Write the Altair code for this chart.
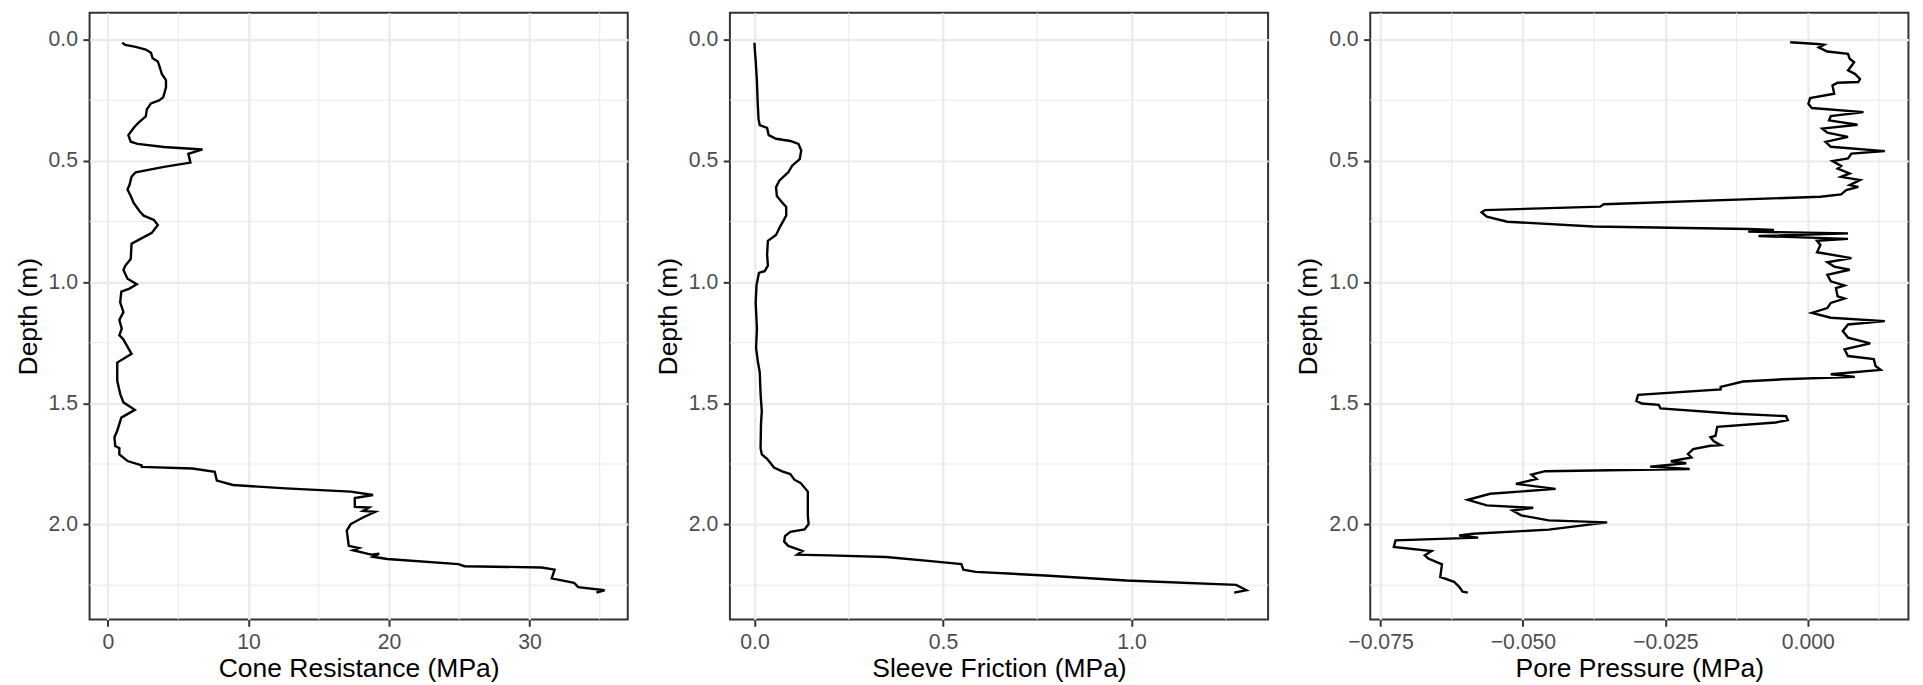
import altair as alt
import pandas as pd

# ---------------- data ----------------
depth_qc = [0.013,0.022,0.030,0.041,0.054,0.077,0.090,0.116,0.143,0.167,
            0.197,0.238,0.251,0.263,0.287,0.317,0.341,0.358,0.376,0.394,
            0.421,0.430,0.443,0.453,0.471,0.507,0.525,0.547,0.565,0.600,
            0.618,0.645,0.672,0.708,0.726,0.744,0.765,0.797,0.824,0.842,
            0.905,0.932,0.950,0.986,1.009,1.027,1.039,1.084,1.124,1.156,
            1.192,1.219,1.237,1.296,1.332,1.407,1.461,1.496,1.527,1.559,
            1.613,1.640,1.676,1.685,1.711,1.738,1.756,1.762,1.769,1.783,
            1.819,1.837,1.851,1.864,1.878,1.891,1.927,1.930,1.944,1.948,
            1.971,1.998,2.025,2.088,2.097,2.106,2.124,2.120,2.133,2.142,
            2.163,2.172,2.177,2.186,2.222,2.240,2.258,2.271,2.281]
cone_resistance = [1.01,1.24,1.97,2.69,3.06,3.18,3.55,3.70,3.84,4.13,
                   4.13,3.93,3.64,3.06,2.77,2.69,2.20,1.91,1.68,1.45,
                   1.62,2.11,3.99,6.73,5.72,5.87,3.99,1.97,1.68,1.53,
                   1.39,1.62,1.82,2.25,2.54,3.27,3.55,3.12,2.25,1.68,
                   1.62,1.24,1.10,1.39,2.05,1.53,0.95,0.87,1.10,0.81,
                   0.98,0.81,1.10,1.68,0.66,0.66,0.87,1.10,1.91,0.95,
                   0.66,0.46,0.52,0.81,0.81,1.39,2.40,2.40,6.01,7.60,
                   7.75,8.90,12.66,17.28,18.87,17.57,17.57,18.58,18.15,19.02,
                   18.15,17.28,17.00,17.14,17.86,17.43,18.73,19.31,18.87,19.88,
                   24.94,25.38,30.87,31.79,31.59,33.18,33.47,35.35,34.77]

depth_fs = [0.013,0.045,0.081,0.170,0.260,0.328,0.353,0.364,0.394,0.409,
            0.418,0.430,0.457,0.493,0.520,0.547,0.582,0.609,0.645,0.672,
            0.690,0.726,0.771,0.806,0.830,0.887,0.932,0.955,0.962,1.013,
            1.084,1.192,1.272,1.335,1.371,1.461,1.532,1.586,1.685,1.711,
            1.729,1.765,1.781,1.792,1.815,1.828,1.864,1.909,1.962,1.998,
            2.020,2.030,2.048,2.070,2.088,2.109,2.124,2.127,2.134,2.151,
            2.163,2.186,2.195,2.210,2.231,2.249,2.271,2.281]
sleeve_friction = [0.000,0.001,0.003,0.0065,0.0086,0.0108,0.014,0.0335,0.0378,0.0572,
                   0.095,0.1166,0.124,0.120,0.100,0.0896,0.0659,0.0572,0.0594,0.0734,
                   0.0842,0.0842,0.068,0.0572,0.0356,0.0335,0.0356,0.027,0.0119,0.0054,
                   0.0032,0.0065,0.0043,0.0097,0.014,0.0162,0.0194,0.0173,0.0162,0.0194,
                   0.0335,0.0518,0.0734,0.095,0.1058,0.122,0.1415,0.1415,0.1415,0.1436,
                   0.1328,0.095,0.081,0.0788,0.0896,0.1274,0.1134,0.1976,0.3488,0.4676,
                   0.5486,0.554,0.5864,0.770,0.986,1.2775,1.3045,1.272]

depth_u = [0.011,0.018,0.021,0.032,0.049,0.059,0.079,0.093,0.127,0.141,
           0.162,0.175,0.178,0.189,0.223,0.241,0.264,0.282,0.299,0.315,
           0.333,0.351,0.367,0.384,0.401,0.422,0.442,0.460,0.470,0.490,
           0.501,0.521,0.532,0.552,0.566,0.579,0.600,0.607,0.621,0.638,
           0.648,0.679,0.689,0.703,0.712,0.730,0.751,0.771,0.781,0.785,
           0.792,0.799,0.810,0.822,0.830,0.847,0.877,0.901,0.918,0.936,
           0.949,0.970,0.997,1.014,1.025,1.059,1.068,1.086,1.107,1.127,
           1.147,1.161,1.175,1.202,1.229,1.253,1.277,1.305,1.318,1.346,
           1.362,1.380,1.391,1.401,1.410,1.432,1.443,1.465,1.490,1.501,
           1.506,1.521,1.542,1.553,1.569,1.579,1.597,1.634,1.640,1.657,
           1.672,1.675,1.689,1.709,1.723,1.739,1.747,1.761,1.771,1.780,
           1.794,1.812,1.832,1.853,1.873,1.898,1.921,1.931,1.942,1.962,
           1.983,1.991,2.021,2.038,2.045,2.054,2.065,2.092,2.109,2.127,
           2.140,2.164,2.216,2.236,2.257,2.277,2.281]
pore_pressure = [-0.00308,0.00163,0.00284,0.00193,0.00344,0.00707,0.00737,0.00815,0.00707,0.00827,
                 0.00918,0.00888,0.00525,0.00435,0.00465,0.00042,0.00012,0.00072,0.00978,0.00405,
                 0.00374,0.00876,0.00254,0.00344,0.00707,0.00314,0.00405,0.01353,0.00767,0.00707,
                 0.00435,0.00586,0.00525,0.00737,0.00586,0.00918,0.00737,0.00888,0.00676,0.00586,
                 0.00223,-0.03582,-0.03642,-0.05666,-0.05726,-0.05635,-0.05273,-0.03763,-0.01045,-0.00592,
                 -0.01045,0.00707,-0.00864,0.00707,0.00163,0.00223,0.00163,0.00767,0.00344,0.00465,
                 0.00737,0.00344,0.00405,0.00646,0.00495,0.00525,0.00646,0.00405,0.00344,0.00072,
                 0.00405,0.01353,0.00707,0.00616,0.00707,0.01099,0.00646,0.00707,0.0116,0.0119,
                 0.0128,0.00405,0.00827,-0.00441,-0.01136,-0.01528,-0.01528,-0.02978,-0.03008,-0.02917,
                 -0.02615,-0.02585,-0.01347,-0.00381,-0.0035,-0.00562,-0.01589,-0.01619,-0.01709,-0.01649,
                 -0.01528,-0.01709,-0.02011,-0.02102,-0.02042,-0.02404,-0.02132,-0.02766,-0.02072,-0.04609,
                 -0.0485,-0.0476,-0.05122,-0.04427,-0.05575,-0.05968,-0.05635,-0.0482,-0.05182,-0.05031,
                 -0.04548,-0.03521,-0.04548,-0.05877,-0.06119,-0.05786,-0.07236,-0.07266,-0.06602,-0.06723,
                 -0.06662,-0.06421,-0.06451,-0.06209,-0.06119,-0.06058,-0.05968]

depth_major = [0.0, 0.5, 1.0, 1.5, 2.0]
depth_minor = [0.25, 0.75, 1.25, 1.75, 2.25]
qc_major = [0, 10, 20, 30]
qc_minor = [5, 15, 25, 35]
fs_major = [0.0, 0.5, 1.0]
fs_minor = [0.25, 0.75, 1.25]
u_major = [-0.075, -0.05, -0.025, 0.0]
u_minor = [-0.0625, -0.0375, -0.0125, 0.0125]

DEPTH_DOMAIN = [-0.1108, 2.392]
GRID = "#EBEBEB"
FONT = "Liberation Sans"
W, H = 541, 610


def panel(xs, ds, title, xdom, xmajor, xminor, fmt):
    df = pd.DataFrame({"x": xs, "d": ds, "i": list(range(len(xs)))})
    xscale = alt.Scale(domain=xdom, nice=False, zero=False)
    yscale = alt.Scale(domain=DEPTH_DOMAIN, nice=False, zero=False, reverse=True)
    xaxis = alt.Axis(values=xmajor, format=fmt, titlePadding=3)
    yaxis = alt.Axis(values=depth_major, format=".1f", titlePadding=6)
    vminor = alt.Chart(pd.DataFrame({"v": xminor})).mark_rule(
        color=GRID, strokeWidth=1.1).encode(
        x=alt.X("v:Q", scale=xscale, axis=xaxis, title=title))
    hminor = alt.Chart(pd.DataFrame({"h": depth_minor})).mark_rule(
        color=GRID, strokeWidth=1.1).encode(
        y=alt.Y("h:Q", scale=yscale, axis=yaxis, title="Depth (m)"))
    line = alt.Chart(df).mark_line(color="black", strokeWidth=2.4).encode(
        x=alt.X("x:Q", scale=xscale, title=title, axis=xaxis),
        y=alt.Y("d:Q", scale=yscale, title="Depth (m)", axis=yaxis),
        order=alt.Order("i:Q"),
    )
    return alt.layer(vminor, hminor, line).properties(width=W, height=H)


p1 = panel(cone_resistance, depth_qc, "Cone Resistance (MPa)", [-1.31, 37.0], qc_major, qc_minor, "d")
p2 = panel(sleeve_friction, depth_fs, "Sleeve Friction (MPa)", [-0.0651, 1.362], fs_major, fs_minor, ".1f")
p3 = panel(pore_pressure, depth_u, "Pore Pressure (MPa)", [-0.0768, 0.01768], u_major, u_minor, ".3f")

chart = alt.hconcat(p1, p2, p3, spacing=102.7, bounds="flush").properties(
    padding={"left": 6, "top": 1, "right": 5, "bottom": 5},
    background="white",
).configure_view(
    stroke="#333333", strokeWidth=2,
).configure_axis(
    domain=False,
    grid=True,
    gridColor=GRID,
    gridWidth=2.2,
    tickColor="#333333",
    tickWidth=2,
    tickSize=6.7,
    labelFont=FONT,
    labelFontSize=21.3,
    labelColor="#4D4D4D",
    labelPadding=5.5,
    labelFlush=False,
    labelOverlap=False,
    titleFont=FONT,
    titleFontSize=26.6,
    titleColor="#000000",
    titleFontWeight="normal",
)

chart.save("out.html", embed_options={"renderer": "svg", "actions": False})
